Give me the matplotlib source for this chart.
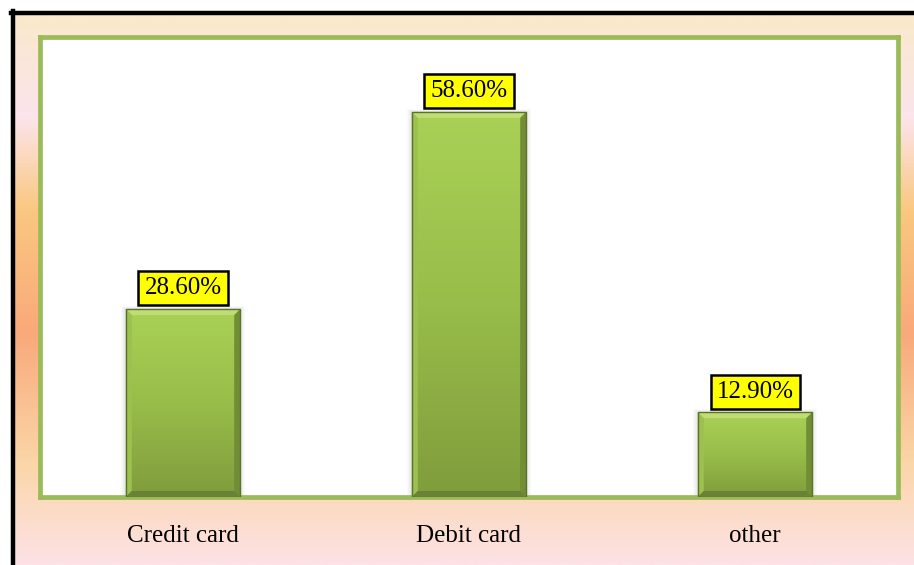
import numpy as np
import matplotlib.pyplot as plt
from matplotlib.colors import LinearSegmentedColormap
from matplotlib.patches import Polygon, Rectangle
from matplotlib.lines import Line2D

# payment method shares (%)
categories = ['Credit card', 'Debit card', 'other']
shares = [28.6, 58.6, 12.9]
share_labels = ['28.60%', '58.60%', '12.90%']

W, H = 914, 565
fig = plt.figure(figsize=(W / 100, H / 100), dpi=100)

# soft vertical gradient behind the chart, inside the black frame
bg = fig.add_axes([15 / W, 0, 1 - 15 / W, 1 - 15 / H], zorder=0)
bg_cmap = LinearSegmentedColormap.from_list('bg', [
    (0.0, '#FAE9CB'), (0.185, '#FCE4EC'), (0.353, '#FAC880'),
    (0.578, '#F9A97A'), (0.815, '#FBD6A8'), (1.0, '#FDE2E6')])
bg.imshow(np.linspace(0, 1, 512).reshape(-1, 1), aspect='auto', cmap=bg_cmap)
bg.axis('off')

# black frame on the left and top
fig.add_artist(Line2D([13 / W, 13 / W], [0, 1 - 11 / H], color='black', lw=3.2,
                      transform=fig.transFigure, zorder=5))
fig.add_artist(Line2D([11 / W, 1], [1 - 13 / H, 1 - 13 / H], color='black', lw=3.2,
                      transform=fig.transFigure, zorder=5))

ax = fig.add_axes([40 / W, (H - 497) / H, (898 - 40) / W, (497 - 37) / H], zorder=1)
ax.set_facecolor('white')
for sp in ax.spines.values():
    sp.set_color('#9BBB59')
    sp.set_linewidth(3.4)

x = np.arange(len(categories))
ax.set_xlim(-0.5, len(categories) - 0.5)
ax.set_ylim(0, 70)
bars = ax.bar(x, shares, width=0.4, color='none', zorder=3)

# pixel size in data units, used for the bevel edges
bb = ax.get_window_extent()
px_x = 3.0 / bb.width
px_y = 70.0 / bb.height
bx, by = 6 * px_x, 6 * px_y

green = LinearSegmentedColormap.from_list('bar', ['#AAD156', '#98BD4A', '#809C3C'])
grad = np.linspace(0, 1, 256).reshape(-1, 1)

for bar in bars:
    x0, y0 = bar.get_x(), bar.get_y()
    x1, y1 = x0 + bar.get_width(), y0 + bar.get_height()

    # faint drop shadow
    for k in range(1, 6):
        ax.add_patch(Rectangle((x0 - k * px_x, y0), (x1 - x0) + 2 * k * px_x,
                               (y1 - y0) + k * px_y * 0.6, color='black',
                               alpha=0.018, lw=0, zorder=2))

    im = ax.imshow(grad, aspect='auto', cmap=green, extent=[x0, x1, y0, y1],
                   zorder=3)
    im.set_clip_path(bar)

    bevels = [
        ([(x0, y1), (x1, y1), (x1 - bx, y1 - by), (x0 + bx, y1 - by)], '#BFDD74'),
        ([(x0, y0), (x0, y1), (x0 + bx, y1 - by), (x0 + bx, y0 + by)], '#9CC14E'),
        ([(x1, y0), (x1, y1), (x1 - bx, y1 - by), (x1 - bx, y0 + by)], '#718D36'),
        ([(x0, y0), (x1, y0), (x1 - bx, y0 + by), (x0 + bx, y0 + by)], '#6A8235'),
    ]
    for pts, c in bevels:
        ax.add_patch(Polygon(pts, closed=True, color=c, lw=0, zorder=4))
    ax.add_patch(Rectangle((x0, y0), x1 - x0, y1 - y0, fill=False,
                           ec='#5A722A', lw=1.0, zorder=5))

for xi, v, lbl in zip(x, shares, share_labels):
    ax.annotate(lbl, (xi, v), xytext=(0, 7), textcoords='offset points',
                ha='center', va='bottom', fontsize=18, family='Liberation Serif',
                zorder=6,
                bbox=dict(boxstyle='square,pad=0.24', fc='#FFFF00', ec='black', lw=1.8))

ax.set_xticks(x, categories, fontsize=18, family='Liberation Serif')
ax.tick_params(axis='x', length=0, pad=20)
ax.set_yticks([])

fig.savefig('out.png', dpi=100)
